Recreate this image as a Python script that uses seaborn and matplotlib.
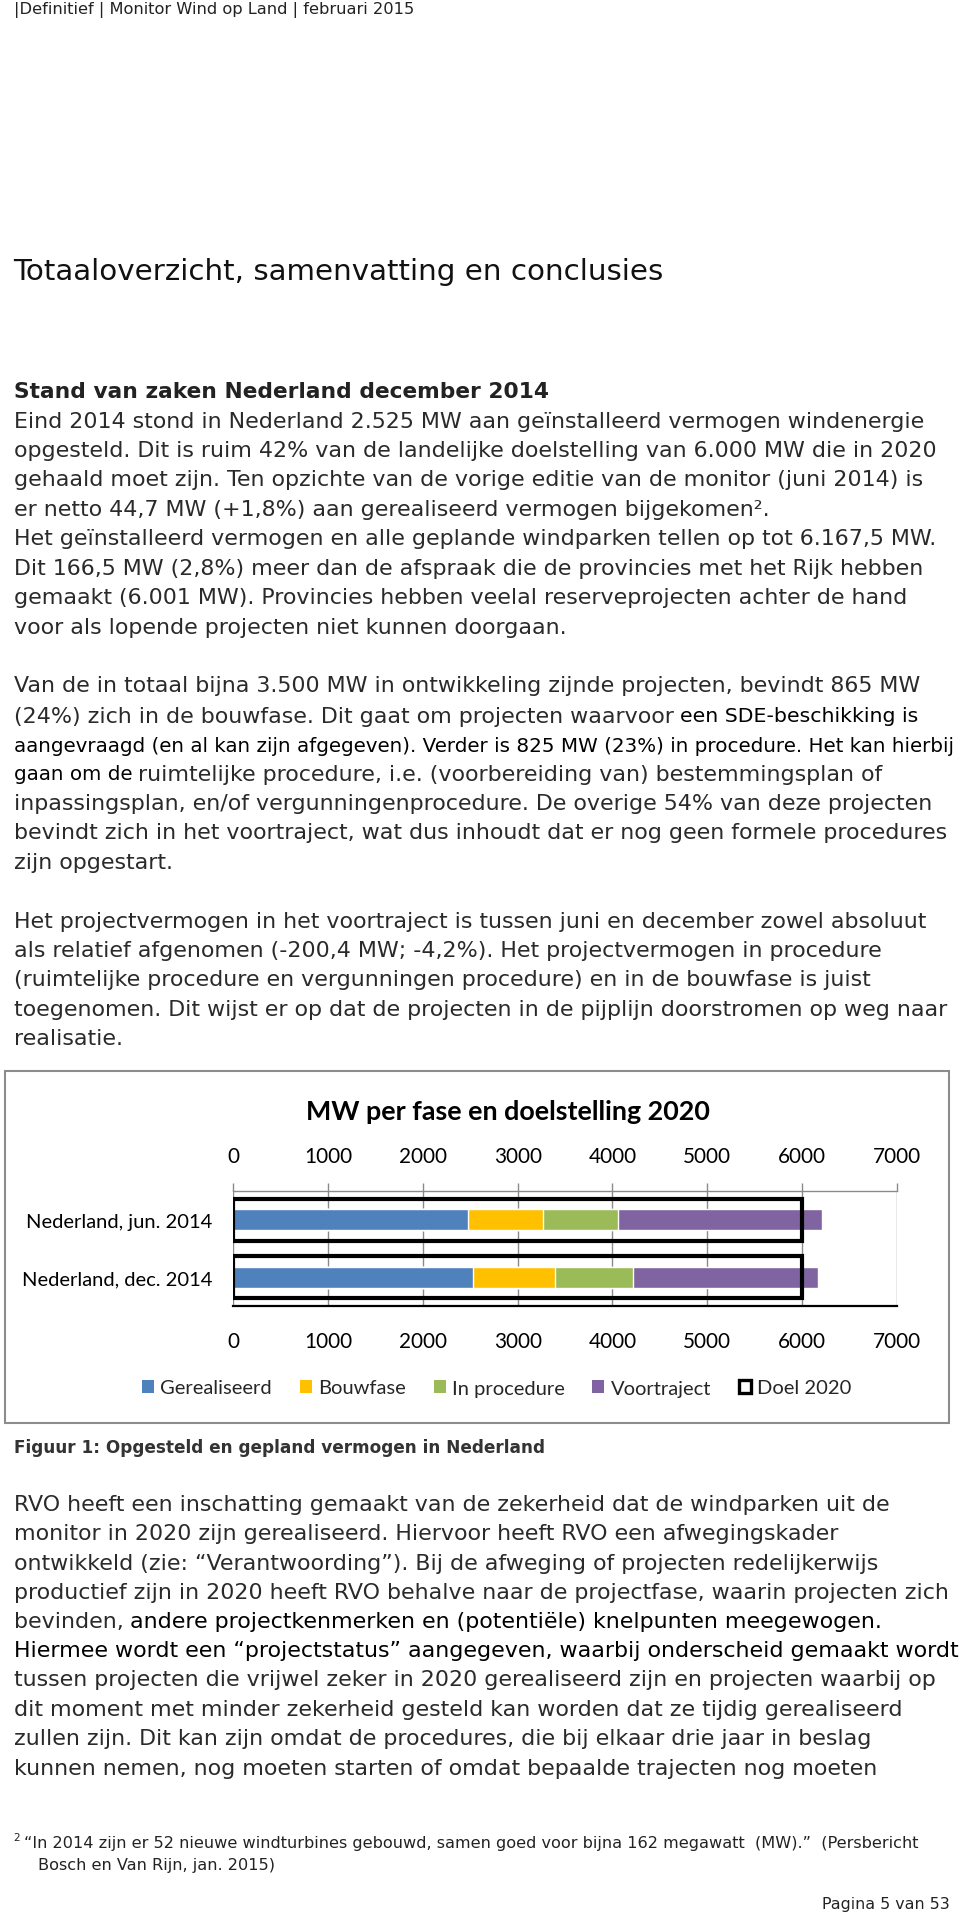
import pandas as pd
import seaborn as sns
import matplotlib.pyplot as plt
from matplotlib.patches import Patch, Rectangle

# chart data (MW)
categories = ['Nederland, jun. 2014', 'Nederland, dec. 2014']
gerealiseerd = [2480, 2525]
bouwfase = [785, 865]
in_procedure = [794, 825]
voortraject = [2156, 1952.5]
doel_2020 = [6000, 6000]
phases = ['Gerealiseerd', 'Bouwfase', 'In procedure', 'Voortraject']
phase_colors = ['#4F81BD', '#FFC000', '#9BBB59', '#8064A2']
x_ticks = [0, 1000, 2000, 3000, 4000, 5000, 6000, 7000]

# page text
header = '|Definitief | Monitor Wind op Land | februari 2015'
page_title = 'Totaaloverzicht, samenvatting en conclusies'
heading = 'Stand van zaken Nederland december 2014'
par1 = [
    'Eind 2014 stond in Nederland 2.525 MW aan geïnstalleerd vermogen windenergie',
    'opgesteld. Dit is ruim 42% van de landelijke doelstelling van 6.000 MW die in 2020',
    'gehaald moet zijn. Ten opzichte van de vorige editie van de monitor (juni 2014) is',
    'er netto 44,7 MW (+1,8%) aan gerealiseerd vermogen bijgekomen².',
    'Het geïnstalleerd vermogen en alle geplande windparken tellen op tot 6.167,5 MW.',
    'Dit 166,5 MW (2,8%) meer dan de afspraak die de provincies met het Rijk hebben',
    'gemaakt (6.001 MW). Provincies hebben veelal reserveprojecten achter de hand',
    'voor als lopende projecten niet kunnen doorgaan.',
]
par3 = [
    'Het projectvermogen in het voortraject is tussen juni en december zowel absoluut',
    'als relatief afgenomen (-200,4 MW; -4,2%). Het projectvermogen in procedure',
    '(ruimtelijke procedure en vergunningen procedure) en in de bouwfase is juist',
    'toegenomen. Dit wijst er op dat de projecten in de pijplijn doorstromen op weg naar',
    'realisatie.',
]
par4_top = [
    'RVO heeft een inschatting gemaakt van de zekerheid dat de windparken uit de',
    'monitor in 2020 zijn gerealiseerd. Hiervoor heeft RVO een afwegingskader',
    'ontwikkeld (zie: “Verantwoording”). Bij de afweging of projecten redelijkerwijs',
    'productief zijn in 2020 heeft RVO behalve naar de projectfase, waarin projecten zich',
]
par4_bottom = [
    'tussen projecten die vrijwel zeker in 2020 gerealiseerd zijn en projecten waarbij op',
    'dit moment met minder zekerheid gesteld kan worden dat ze tijdig gerealiseerd',
    'zullen zijn. Dit kan zijn omdat de procedures, die bij elkaar drie jaar in beslag',
    'kunnen nemen, nog moeten starten of omdat bepaalde trajecten nog moeten',
]

W, H = 960, 1915
BODY = '#2a2a2a'
SERIF = 'DejaVu Sans'

sns.set_theme(style='white')
plt.rcParams['font.family'] = ['Lato', 'DejaVu Sans']

fig = plt.figure(figsize=(9.6, 19.15), dpi=100)
r = fig.canvas.get_renderer()


def fx(x):
    return x / W


def fy(y):
    return 1 - y / H


def measure(s, size=10, weight='normal', family=SERIF):
    t = fig.text(0, 0, s, fontsize=size, fontweight=weight, family=family)
    w = t.get_window_extent(renderer=r).width
    t.remove()
    return w


def adv(s, size, weight='normal'):
    return measure(s + '|', size, weight) - measure('|', size, weight)


def size_for(s, width, weight='normal', family=SERIF):
    return 10 * width / measure(s, 10, weight, family)


def put(x, y, s, size, color=BODY, weight='normal', ha='left', family=SERIF):
    fig.text(fx(x), fy(y), s, fontsize=size, color=color, fontweight=weight,
             ha=ha, va='center', family=family)


L = 13.5
base = size_for(par1[0], 921.7 - L)

# header + titles
put(L, 9.5, header, size_for(header, 413 - L), color='#222222')
put(L, 271.7, page_title, size_for(page_title, 666 - L), color='#111111')
put(L, 392.3, heading, size_for(heading, 551 - L, weight='bold'), color='#222222', weight='bold')

for i, s in enumerate(par1):
    put(L, 421.7 + i * 29.4, s, base)

# paragraph 2 (mixed runs)
put(L, 685.7, 'Van de in totaal bijna 3.500 MW in ontwikkeling zijnde projecten, bevindt 865 MW', base)
first = '(24%) zich in de bouwfase. Dit gaat om projecten waarvoor '
put(L, 716.7, first, base)
x2 = L + adv(first, base)
second = 'een SDE-beschikking is'
put(x2, 716.7, second, size_for(second, 917.7 - x2), color='black')
aang = 'aangevraagd (en al kan zijn afgegeven). Verder is 825 MW (23%) in procedure. Het kan hierbij'
small = size_for(aang, 957 - L)
put(L, 746, aang, small, color='black')
put(L, 775, 'gaan om de ', small, color='black')
put(L + adv('gaan om de ', small), 775,
    'ruimtelijke procedure, i.e. (voorbereiding van) bestemmingsplan of', base)
put(L, 804.3, 'inpassingsplan, en/of vergunningenprocedure. De overige 54% van deze projecten', base)
put(L, 833.3, 'bevindt zich in het voortraject, wat dus inhoudt dat er nog geen formele procedures', base)
put(L, 863.3, 'zijn opgestart.', base)

for i, s in enumerate(par3):
    put(L, 921.7 + i * 29.4, s, base)

# ---- chart ----
df = pd.DataFrame({'periode': categories, 'Gerealiseerd': gerealiseerd,
                   'Bouwfase': bouwfase, 'In procedure': in_procedure,
                   'Voortraject': voortraject, 'Doel 2020': doel_2020})
cum = df[phases].cumsum(axis=1)

ax = fig.add_axes([fx(233.3), fy(1307.3), (896.7 - 233.3) / W, (1307.3 - 1191.7) / H])
for phase, color in reversed(list(zip(phases, phase_colors))):
    sns.barplot(x=cum[phase], y=df['periode'], color=color, saturation=1,
                width=0.36, errorbar=None, orient='h', ax=ax)
sns.barplot(x=df['Doel 2020'], y=df['periode'], color='black', fill=False,
            linewidth=3, width=0.73, errorbar=None, orient='h', ax=ax)

ax.set_xlim(0, 7000)
ax.set_xticks(x_ticks)
ax.set_xlabel('')
ax.set_ylabel('')
ax.grid(axis='x', color='#8a8a8a', linewidth=1)
ax.set_axisbelow(True)
for side in ['left', 'right']:
    ax.spines[side].set_visible(False)
ax.spines['top'].set_color('#8a8a8a')
ax.spines['top'].set_linewidth(1)
ax.spines['bottom'].set_color('black')
ax.spines['bottom'].set_linewidth(1.6)

tick_size = size_for('1000', 48, family='Lato')
cat_size = size_for('Nederland, jun. 2014', 186, family='Lato')
ax.tick_params(axis='x', top=True, bottom=False, labeltop=True, labelbottom=True,
               direction='out', length=5.5, width=1, color='#8a8a8a', pad=12,
               labelsize=tick_size, labelcolor='black')
ax.tick_params(axis='y', length=0, pad=15, labelsize=cat_size, labelcolor='black')

title = 'MW per fase en doelstelling 2020'
fig.text(fx(508), fy(1111.7), title, fontsize=size_for(title, 407, weight='bold', family='Lato'),
         fontweight='bold', family='Lato', ha='center', va='center', color='black')

leg_size = size_for('Gerealiseerd', 112, family='Lato')
fpx = leg_size * 100 / 72
handles = [Patch(facecolor=c, edgecolor='none') for c in phase_colors]
handles.append(Patch(facecolor='white', edgecolor='black', linewidth=2.4))
fig.legend(handles, phases + ['Doel 2020'], loc='center',
           bbox_to_anchor=(fx(496.7), fy(1389)), ncol=5, frameon=False,
           fontsize=leg_size, handlelength=12 / fpx, handleheight=12 / fpx,
           handletextpad=6 / fpx, columnspacing=28 / fpx, borderpad=0)

fig.add_artist(Rectangle((fx(5), fy(1424.3)), (949 - 5) / W, (1424.3 - 1071.7) / H,
                         transform=fig.transFigure, fill=False,
                         edgecolor='#8c8c8c', linewidth=1.5))

# caption + paragraph 4
caption = 'Figuur 1: Opgesteld en gepland vermogen in Nederland'
put(L, 1448.3, caption, size_for(caption, 545 - L, weight='bold'), color='#333333', weight='bold')

for i, s in enumerate(par4_top):
    put(L, 1505 + i * 29.3, s, base)
put(L, 1622.3, 'bevinden, ', base)
put(L + adv('bevinden, ', base), 1622.3,
    'andere projectkenmerken en (potentiële) knelpunten meegewogen.', base, color='black')
put(L, 1651.5, 'Hiermee wordt een “projectstatus” aangegeven, waarbij onderscheid gemaakt wordt',
    base, color='black')
for i, s in enumerate(par4_bottom):
    put(L, 1680.5 + i * 29.5, s, base)

# footnote + page number
foot1 = '“In 2014 zijn er 52 nieuwe windturbines gebouwd, samen goed voor bijna 162 megawatt  (MW).”  (Persbericht'
fsize = size_for(foot1, 917 - 24.5)
put(L, 1838, '2', fsize * 0.65, color='#222222')
put(24.5, 1844, foot1, fsize, color='#222222')
put(38, 1865.5, 'Bosch en Van Rijn, jan. 2015)', fsize, color='#222222')
put(950, 1905, 'Pagina 5 van 53', size_for('Pagina 5 van 53', 950 - 822), color='#222222', ha='right')

fig.savefig('out.png', dpi=100, facecolor='white')
